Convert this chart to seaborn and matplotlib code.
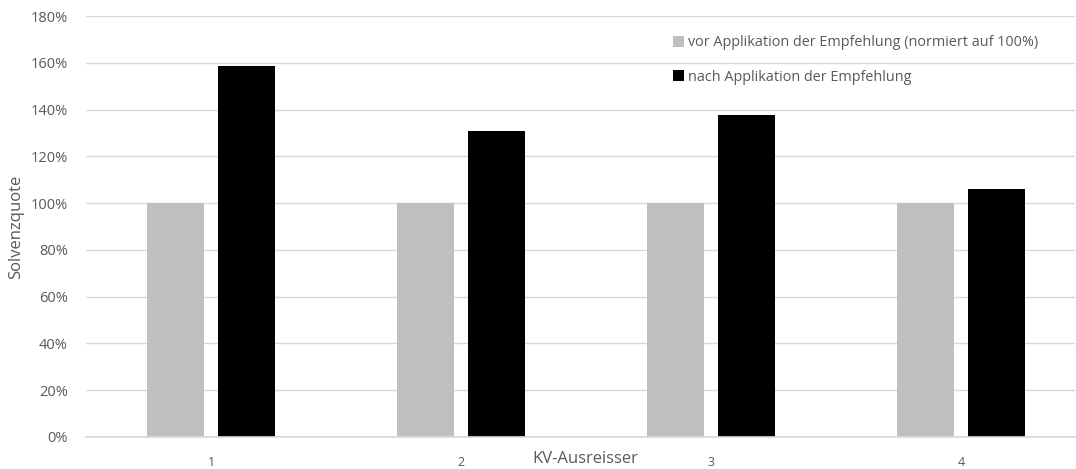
import matplotlib
matplotlib.use("Agg")
import matplotlib.pyplot as plt
import seaborn as sns
import pandas as pd
from matplotlib.ticker import PercentFormatter

categories = ["1", "2", "3", "4"]
series_names = ["vor Applikation der Empfehlung (normiert auf 100%)",
                "nach Applikation der Empfehlung"]
vor_values = [1.00, 1.00, 1.00, 1.00]
nach_values = [1.586, 1.308, 1.377, 1.060]
colors = ["#bfbfbf", "#000000"]

df = pd.DataFrame({
    "KV-Ausreisser": categories * 2,
    "Serie": [series_names[0]] * 4 + [series_names[1]] * 4,
    "Solvenzquote": vor_values + nach_values,
})

sns.set_theme(style="white")
plt.rcParams['font.family'] = ['Open Sans', 'DejaVu Sans']
text_color = "#595959"

fig = plt.figure(figsize=(10.76, 4.69), dpi=100)
ax = fig.add_axes([86/1076, 1-437/469, 989/1076, 421/469])

sns.barplot(data=df, x="KV-Ausreisser", y="Solvenzquote", hue="Serie",
            palette=colors, width=0.572, gap=0.2, ax=ax, errorbar=None,
            saturation=1, linewidth=0)

ax.set_ylim(0, 1.8)
ax.set_xlim(-0.5, 3.456)
ax.set_yticks([i * 0.2 for i in range(10)])
ax.yaxis.set_major_formatter(PercentFormatter(1.0, decimals=0))
ax.grid(axis="y", color="#d9d9d9", linewidth=1)
ax.set_axisbelow(True)
for s in ["top", "right", "left"]:
    ax.spines[s].set_visible(False)
ax.spines["bottom"].set_color("#d9d9d9")
ax.tick_params(axis="y", length=0, pad=13, labelsize=10.5, labelcolor=text_color)
ax.tick_params(axis="x", length=0, pad=13.5, labelsize=9, labelcolor=text_color)

ax.set_ylabel("Solvenzquote", fontsize=12, color=text_color)
ax.yaxis.set_label_coords(-0.063, 0.5)
ax.set_xlabel("KV-Ausreisser", fontsize=12, color=text_color)
ax.xaxis.set_label_coords(0.5045, -0.034)

leg = ax.legend(loc="upper left", bbox_to_anchor=(0.588, 0.968), frameon=False,
                fontsize=10.4, labelspacing=1.35, handlelength=0.75, handleheight=0.75,
                handletextpad=0.3, borderaxespad=0)
for t in leg.get_texts():
    t.set_color(text_color)

fig.savefig("out.png", dpi=100)
